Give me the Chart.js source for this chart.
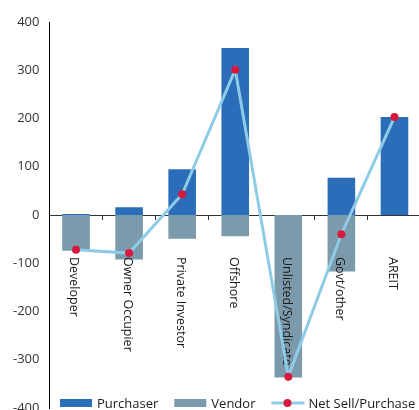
<!DOCTYPE html>
<html>
<head>
<meta charset="utf-8">
<script src="https://cdn.jsdelivr.net/npm/chart.js@4.4.1/dist/chart.umd.min.js"></script>
<style>
  html, body { margin: 0; padding: 0; background: #fff; overflow: hidden; }
  #wrap { position: relative; width: 421px; height: 410px; }
</style>
</head>
<body>
<div id="wrap"><canvas id="chart"></canvas></div>
<script>
const categories = ['Developer', 'Owner Occupier', 'Private Investor', 'Offshore', 'Unlisted/Syndicate', 'Govt/other', 'AREIT'];
const purchaser = [2, 16, 95, 346, 0, 77, 203];
const vendor = [-74, -92, -49, -44, -337, -117, 0];
const netSellPurchase = [-72, -79, 43, 301, -335, -40, 203];
const yTickValues = [-400, -300, -200, -100, 0, 100, 200, 300, 400];

const FONT = "'Open Sans', 'Noto Sans', sans-serif";
const BLUE = '#2b6db9';
const GREY = '#7b9aab';
const LINE = '#8ecbe6';
const DOT = '#d7193e';

// category names hang down from the zero line, rotated clockwise
const categoryLabels = {
    id: 'categoryLabels',
    beforeDatasetDraw(chart, args) {
        if (args.meta.type !== 'line') return;
        const ctx = chart.ctx;
        const x = chart.scales.x;
        const top = chart.scales.y.getPixelForValue(0) + 42;
        ctx.save();
        ctx.font = '12.5px ' + FONT;
        ctx.fillStyle = '#1a1a1a';
        ctx.textAlign = 'left';
        ctx.textBaseline = 'middle';
        categories.forEach((c, i) => {
            ctx.save();
            ctx.translate(x.getPixelForValue(i) - 2, top);
            ctx.rotate(Math.PI / 2);
            ctx.fillText(c, 0, 0);
            ctx.restore();
        });
        ctx.restore();
    }
};

// legend row along the bottom, drawn over the plot area
const bottomLegend = {
    id: 'bottomLegend',
    afterDraw(chart) {
        const ctx = chart.ctx;
        const cy = 403;
        let x = 60;
        ctx.save();
        ctx.font = '13px ' + FONT;
        ctx.textBaseline = 'middle';
        chart.data.datasets.forEach(ds => {
            if (ds.type === 'line') {
                ctx.strokeStyle = ds.borderColor;
                ctx.lineWidth = 3;
                ctx.beginPath();
                ctx.moveTo(x, cy);
                ctx.lineTo(x + 33, cy);
                ctx.stroke();
                ctx.fillStyle = ds.pointBackgroundColor;
                ctx.beginPath();
                ctx.arc(x + 16, cy, 4, 0, Math.PI * 2);
                ctx.fill();
            } else {
                ctx.fillStyle = ds.backgroundColor;
                ctx.fillRect(x, cy - 4, 32, 8);
            }
            ctx.fillStyle = '#1a1a1a';
            ctx.fillText(ds.label, x + 37, cy + 1);
            x += 37 + ctx.measureText(ds.label).width + 16;
        });
        ctx.restore();
    }
};

new Chart(document.getElementById('chart'), {
    type: 'bar',
    data: {
        labels: categories,
        datasets: [
            {
                label: 'Purchaser',
                data: purchaser,
                backgroundColor: BLUE,
                stack: 'flow',
                order: 1,
                barPercentage: 0.65,
                categoryPercentage: 0.8
            },
            {
                label: 'Vendor',
                data: vendor,
                backgroundColor: GREY,
                stack: 'flow',
                order: 1,
                barPercentage: 0.65,
                categoryPercentage: 0.8
            },
            {
                type: 'line',
                label: 'Net Sell/Purchase',
                data: netSellPurchase,
                borderColor: LINE,
                borderWidth: 3,
                tension: 0,
                pointRadius: 4,
                pointBorderWidth: 0,
                pointBackgroundColor: DOT,
                stack: 'net',
                order: 0
            }
        ]
    },
    options: {
        responsive: true,
        maintainAspectRatio: false,
        animation: false,
        layout: { autoPadding: false, padding: { left: 3, top: 22, right: 0, bottom: 2 } },
        plugins: {
            legend: { display: false },
            tooltip: { enabled: false }
        },
        scales: {
            x: {
                stacked: true,
                position: { y: 0 },
                ticks: { display: false },
                grid: { display: true, drawOnChartArea: false, tickLength: 4, color: '#333', offset: true },
                border: { display: true, color: '#333', width: 1 }
            },
            y: {
                stacked: true,
                min: -400,
                max: 400,
                afterBuildTicks: scale => { scale.ticks = yTickValues.map(v => ({ value: v })); },
                // let the end labels run past the plot edges
                afterFit: scale => { scale.paddingTop = 0; scale.paddingBottom = 0; },
                ticks: { padding: 10, color: '#333', font: { family: FONT, size: 13 } },
                grid: { display: false, drawTicks: false },
                border: { display: true, color: '#000', width: 1 }
            }
        }
    },
    plugins: [categoryLabels, bottomLegend]
});
</script>
</body>
</html>
